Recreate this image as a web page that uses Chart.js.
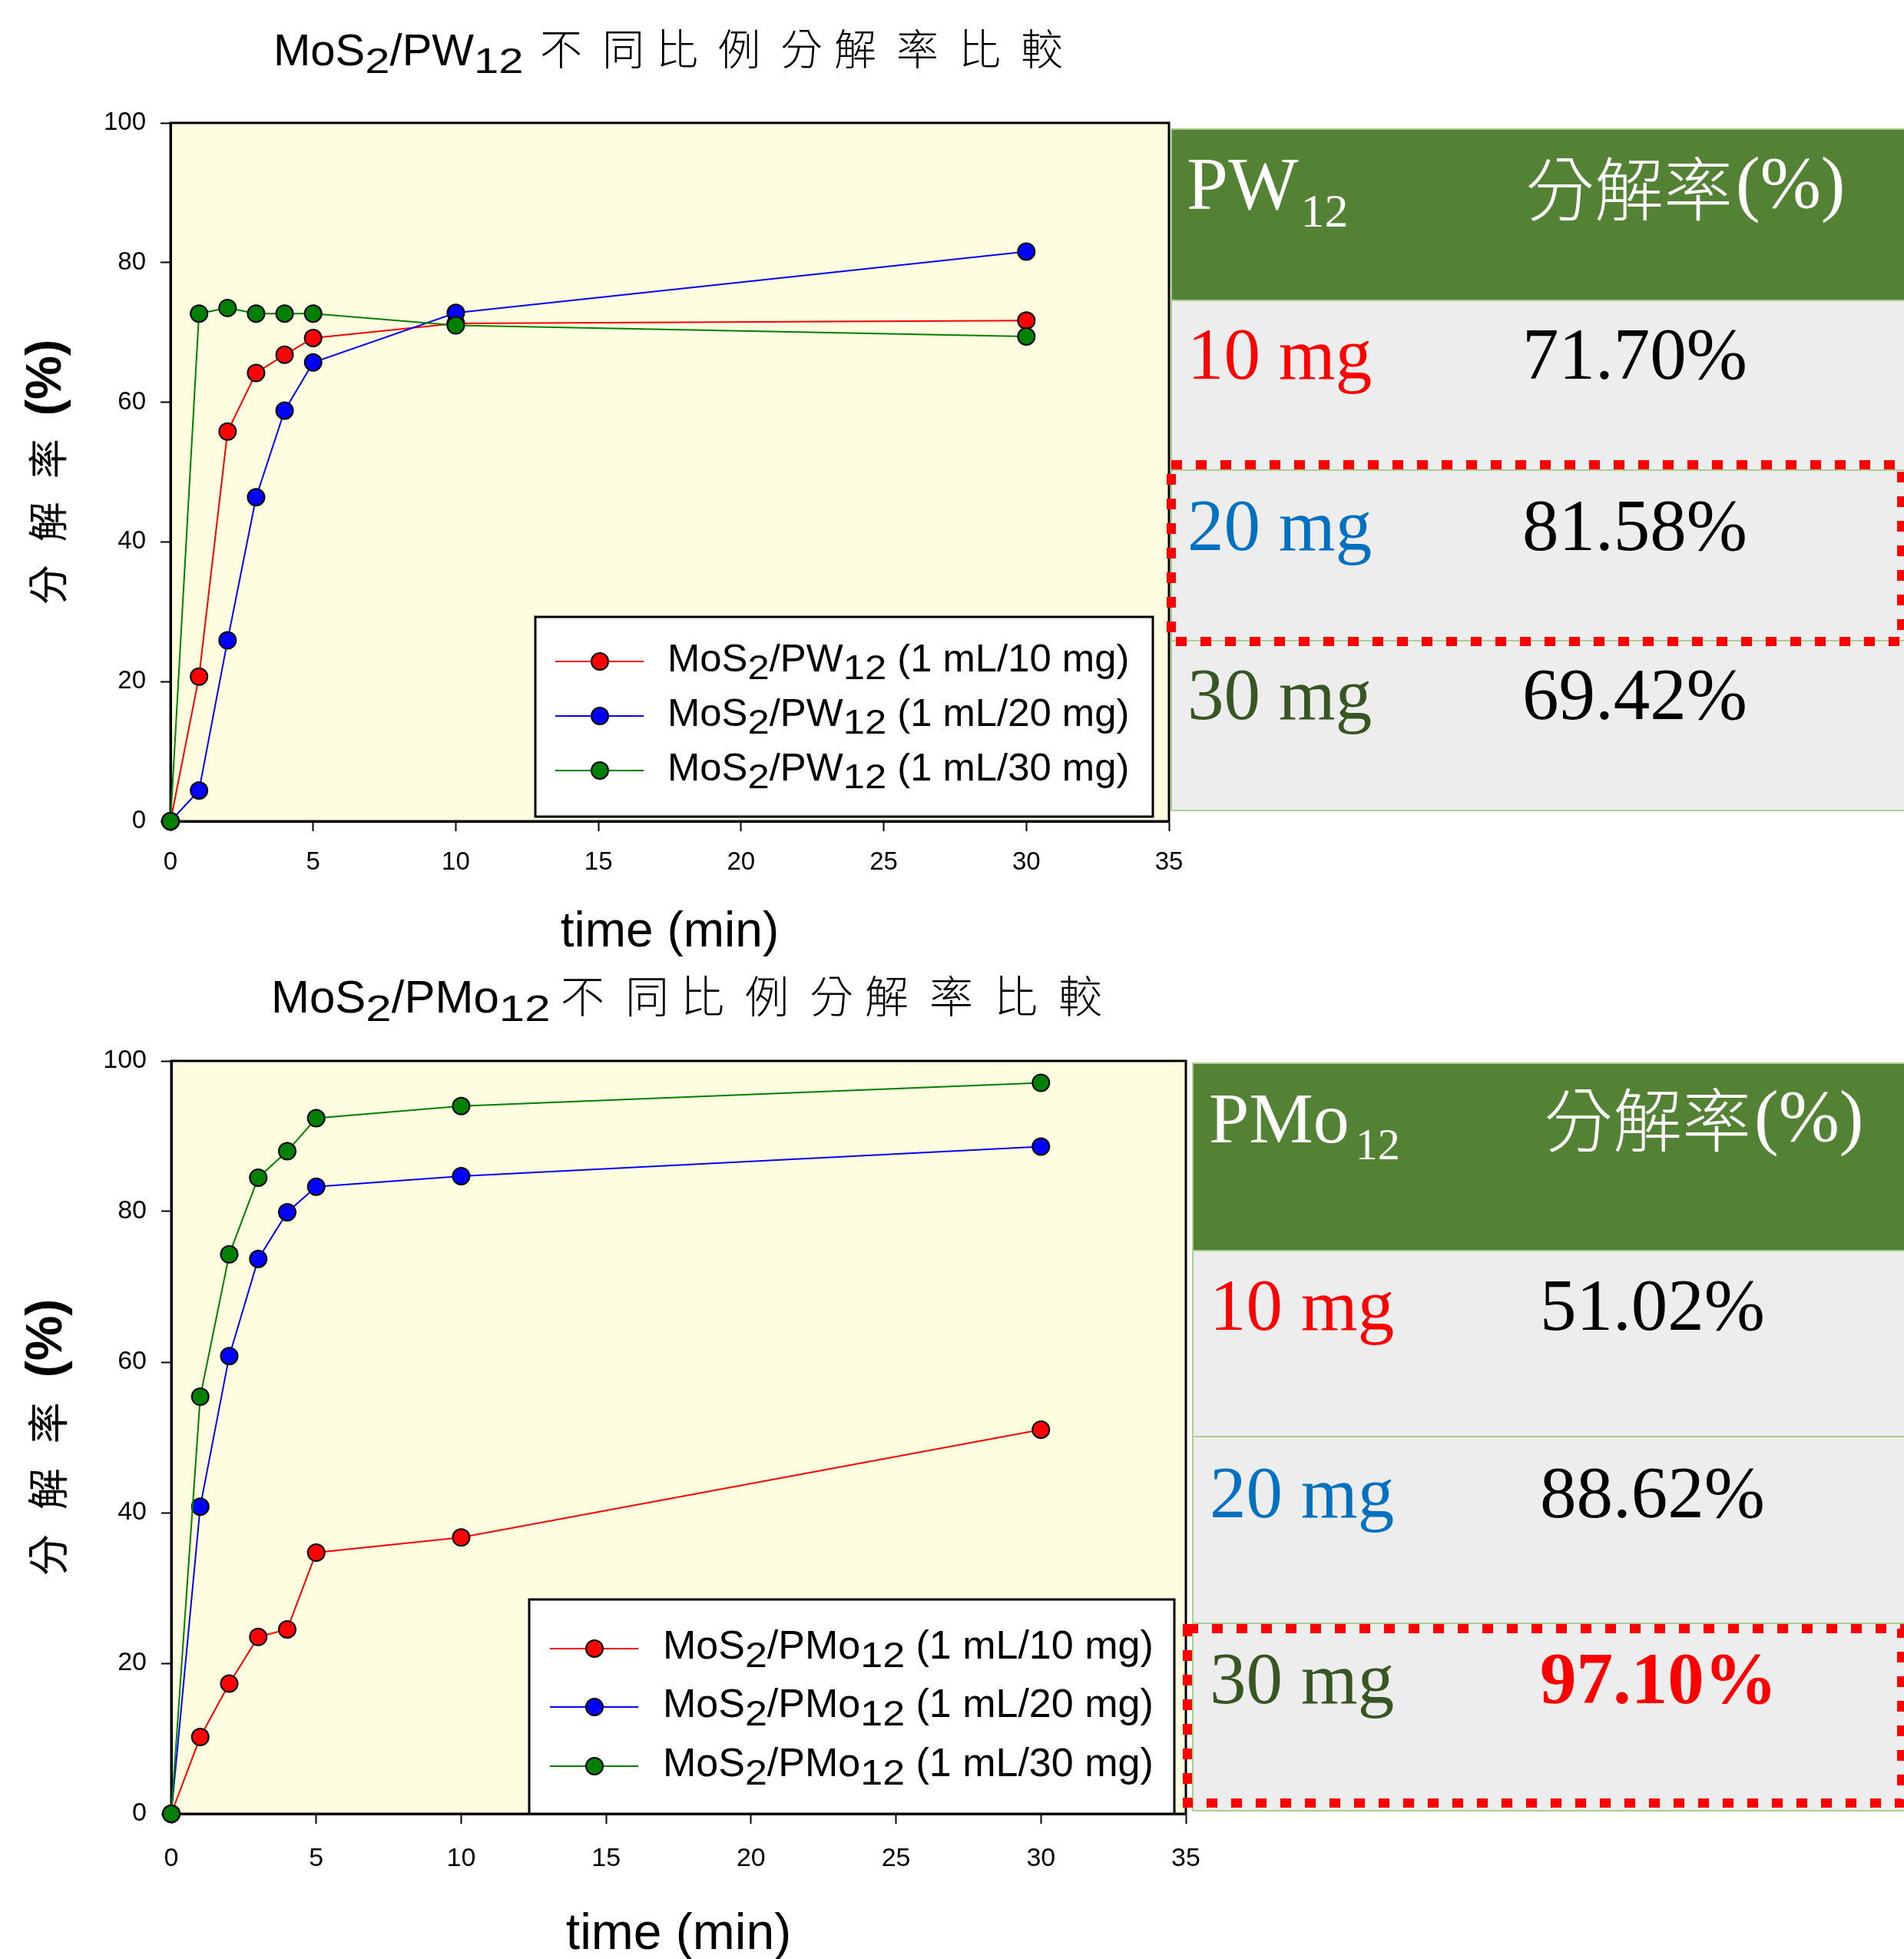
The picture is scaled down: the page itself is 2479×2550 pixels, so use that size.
<!DOCTYPE html>
<html>
<head>
<meta charset="utf-8">
<script src="https://cdn.jsdelivr.net/npm/chart.js@4.4.1/dist/chart.umd.min.js"></script>
<style>
  html, body { margin: 0; padding: 0; background: #ffffff; }
  body { width: 2479px; height: 2550px; position: relative; overflow: hidden; }
  canvas { position: absolute; left: 0; }
  #pwChart { top: 0; }
  #pmoChart { top: 1255px; }
</style>
</head>
<body>
<canvas id="pwChart" width="2479" height="1255"></canvas>
<canvas id="pmoChart" width="2479" height="1295"></canvas>
<script>
// Sampling times (min)
const timeMin = [0, 1, 2, 3, 4, 5, 10, 30];

// MoS2/PW12 decomposition (%) for 10 / 20 / 30 mg
const pw12_10mg = [0, 20.7, 55.8, 64.2, 66.8, 69.2, 71.3, 71.70];
const pw12_20mg = [0, 4.4, 25.9, 46.4, 58.8, 65.7, 72.8, 81.58];
const pw12_30mg = [0, 72.7, 73.5, 72.7, 72.7, 72.7, 71.0, 69.42];

// MoS2/PMo12 decomposition (%) for 10 / 20 / 30 mg
const pmo12_10mg = [0, 10.2, 17.3, 23.5, 24.5, 34.7, 36.7, 51.02];
const pmo12_20mg = [0, 40.8, 60.8, 73.7, 79.9, 83.3, 84.7, 88.62];
const pmo12_30mg = [0, 55.4, 74.3, 84.5, 88.0, 92.4, 94.0, 97.10];

// Dose labels and axis ticks
const doseLabels = ['10 mg', '20 mg', '30 mg'];
const xTickValues = [0, 5, 10, 15, 20, 25, 30, 35];
const yTickValues = [0, 20, 40, 60, 80, 100];

const titleWords = '不 同比 例 分解 率 比 較';
const yTitleChars = ['分', '解', '率'];
const yTitleUnit = '(%)';
const xTitleText = 'time (min)';
const tableHeader = '分解率';

const seriesColors = ['#FF0000', '#0000FF', '#008000'];
const doseTextColors = ['#FF0000', '#0070C0', '#375623'];

const FONT_SANS = '"Liberation Sans", Arial, Helvetica, sans-serif';
const FONT_SERIF = '"Liberation Serif", "Times New Roman", serif';
const FONT_CJK = '"Noto Sans CJK TC", "Noto Sans CJK SC", "Noto Sans CJK JP", sans-serif';

// Draw a run of text pieces; pieces flagged as subscript are shifted down
function drawRich(ctx, x, y, parts, font, sub) {
  for (const [t, isSub] of parts) {
    if (isSub) {
      ctx.font = sub.font || font;
      const w = ctx.measureText(t).width;
      ctx.save();
      ctx.translate(x + (sub.gap || 0), y + sub.dy);
      ctx.scale(1, sub.sy || 1);
      ctx.fillText(t, 0, 0);
      ctx.restore();
      x += w + (sub.gap || 0);
    } else {
      ctx.font = font;
      ctx.fillText(t, x, y);
      x += ctx.measureText(t).width;
    }
  }
  return x;
}

function formulaParts(anion, dose) {
  const parts = [['MoS', 0], ['2', 1], ['/' + anion, 0], ['12', 1]];
  if (dose) parts.push([' (1 mL/' + dose + ')', 0]);
  return parts;
}

function drawPanelTitle(ctx, p) {
  const t = p.title;
  ctx.fillStyle = '#000';
  ctx.textAlign = 'left';
  ctx.textBaseline = 'alphabetic';
  drawRich(ctx, t.x, t.base, formulaParts(p.anion), `${t.size}px ${FONT_SANS}`, { dy: t.subDy, sy: 0.8 });
  ctx.font = `300 ${t.cjkSize}px ${FONT_CJK}`;
  let x = t.cjkX;
  for (const ch of titleWords) {
    if (ch === ' ') { x += t.spaceGap; continue; }
    ctx.fillText(ch, x, t.cjkBase);
    x += ctx.measureText(ch).width + t.charGap;
  }
}

function drawYTitle(ctx, cx, cy, p) {
  const cjkFont = `${p.cjkSize}px ${FONT_CJK}`;
  const unitFont = `bold ${p.unitSize}px ${FONT_SANS}`;
  ctx.save();
  ctx.translate(cx, cy);
  ctx.rotate(-Math.PI / 2);
  ctx.fillStyle = '#000';
  ctx.textAlign = 'left';
  ctx.textBaseline = 'alphabetic';
  ctx.font = cjkFont;
  const cw = ctx.measureText(yTitleChars[0]).width;
  ctx.font = unitFont;
  const uw = ctx.measureText(yTitleUnit).width;
  const total = yTitleChars.length * (cw + p.gap) + uw;
  let x = -total / 2;
  ctx.font = cjkFont;
  for (const ch of yTitleChars) {
    ctx.fillText(ch, x, 0.38 * p.cjkSize);
    x += cw + p.gap;
  }
  ctx.font = unitFont;
  ctx.fillText(yTitleUnit, x, 0.27 * p.unitSize);
  ctx.restore();
}

function drawLegend(ctx, p) {
  const L = p.legend;
  ctx.save();
  ctx.fillStyle = '#ffffff';
  ctx.fillRect(L.x, L.y, L.w, L.h);
  ctx.strokeStyle = '#000';
  ctx.lineWidth = 3;
  ctx.strokeRect(L.x, L.y, L.w, L.h);
  p.series.forEach((vals, i) => {
    const y = L.rows[i];
    ctx.strokeStyle = seriesColors[i];
    ctx.lineWidth = 2;
    ctx.beginPath();
    ctx.moveTo(L.lineX[0], y);
    ctx.lineTo(L.lineX[1], y);
    ctx.stroke();
    ctx.beginPath();
    ctx.arc(L.markerX, y, p.pointR, 0, Math.PI * 2);
    ctx.fillStyle = seriesColors[i];
    ctx.fill();
    ctx.strokeStyle = '#000';
    ctx.lineWidth = 2;
    ctx.stroke();
    ctx.fillStyle = '#000';
    ctx.textAlign = 'left';
    ctx.textBaseline = 'alphabetic';
    drawRich(ctx, L.textX, y + L.textDy, formulaParts(p.anion, doseLabels[i]),
      `${L.size}px ${FONT_SANS}`, { dy: L.subDy, sy: 0.88 });
  });
  ctx.restore();
}

function drawTable(ctx, p) {
  const T = p.table;
  const [yTop, yHdr, yR1, yR2, yBot] = T.ys;
  const w = T.x1 - T.x0;
  ctx.save();
  ctx.fillStyle = '#548235';
  ctx.fillRect(T.x0, yTop, w, yHdr - yTop);
  ctx.fillStyle = '#EDEDED';
  ctx.fillRect(T.x0, yHdr, w, yBot - yHdr);
  ctx.strokeStyle = '#A9D08E';
  ctx.lineWidth = 2;
  ctx.beginPath();
  for (const yy of [yTop, yHdr, yR1, yR2, yBot]) { ctx.moveTo(T.x0, yy); ctx.lineTo(T.x1, yy); }
  ctx.moveTo(T.x0, yTop); ctx.lineTo(T.x0, yBot);
  ctx.stroke();

  // header
  ctx.textAlign = 'left';
  ctx.textBaseline = 'alphabetic';
  ctx.fillStyle = '#ffffff';
  drawRich(ctx, T.hdrX, T.hdrBase, [['P' + (p.anion === 'PW' ? 'W' : 'Mo'), 0], ['12', 1]],
    `${T.hdrSize}px ${FONT_SERIF}`, { font: `${T.subSize}px ${FONT_SERIF}`, dy: T.subDy, gap: T.subGap });
  ctx.font = `300 ${T.cjkSize}px ${FONT_CJK}`;
  ctx.fillText(tableHeader, T.cjkX, T.cjkBase);
  const hx = T.cjkX + ctx.measureText(tableHeader).width + 4;
  ctx.font = `${T.valSize}px ${FONT_SERIF}`;
  ctx.fillText(yTitleUnit, hx, T.unitBase);

  // body rows: dose and final decomposition at 30 min
  p.series.forEach((vals, i) => {
    const base = T.rowBases[i];
    ctx.font = `${T.valSize}px ${FONT_SERIF}`;
    ctx.fillStyle = doseTextColors[i];
    ctx.fillText(doseLabels[i], T.labelX, base);
    const finalVal = vals[vals.length - 1];
    const bold = T.boldRow === i;
    ctx.font = `${bold ? 'bold ' : ''}${T.valSize}px ${FONT_SERIF}`;
    ctx.fillStyle = bold ? '#FF0000' : '#000000';
    ctx.fillText(finalVal.toFixed(2) + '%', T.valueX, base);
  });

  // dashed highlight box
  const D = T.dash;
  ctx.strokeStyle = '#FF0000';
  ctx.lineWidth = 12;
  ctx.setLineDash([14, 18]);
  ctx.lineCap = 'butt';
  ctx.strokeRect(D.x0, D.y0, D.x1 - D.x0, D.y1 - D.y0);
  ctx.restore();
}

function buildPanel(p) {
  const canvas = document.getElementById(p.canvasId);
  const W = canvas.width, H = canvas.height;
  const A = p.area;
  const xAxisH = 80;

  const datasets = p.series.map((vals, i) => ({
    label: doseLabels[i],
    data: timeMin.map((t, k) => ({ x: t, y: vals[k] })),
    borderColor: seriesColors[i],
    backgroundColor: seriesColors[i],
    pointBackgroundColor: seriesColors[i],
    pointBorderColor: '#000000',
    pointBorderWidth: 2,
    pointRadius: p.pointR,
    pointHoverRadius: p.pointR,
    borderWidth: 2,
    tension: 0,
    fill: false,
    clip: false,
    order: p.series.length - 1 - i
  }));

  const decor = {
    id: 'panelDecor',
    beforeDraw(chart) {
      const c = chart.ctx, a = chart.chartArea;
      c.save();
      c.fillStyle = '#FFFDE0';
      c.fillRect(a.left, a.top, a.right - a.left, a.bottom - a.top);
      c.restore();
    },
    beforeDatasetsDraw(chart) {
      const c = chart.ctx, a = chart.chartArea;
      c.save();
      c.strokeStyle = '#000';
      c.lineWidth = 3;
      c.strokeRect(a.left, a.top, a.right - a.left, a.bottom - a.top);
      c.restore();
    },
    afterDatasetsDraw(chart) {
      drawLegend(chart.ctx, p);
    },
    afterDraw(chart) {
      const c = chart.ctx, a = chart.chartArea;
      drawPanelTitle(c, p);
      drawYTitle(c, p.yTitle.cx, (a.top + a.bottom) / 2, p.yTitle);
      c.save();
      c.fillStyle = '#000';
      c.textAlign = 'center';
      c.textBaseline = 'alphabetic';
      c.font = `${p.xTitle.size}px ${FONT_SANS}`;
      c.fillText(xTitleText, (a.left + a.right) / 2, a.bottom + p.xTitle.offset);
      c.restore();
      drawTable(c, p);
    }
  };

  const tickFont = { family: FONT_SANS, size: p.tickSize };
  new Chart(canvas, {
    type: 'line',
    data: { datasets },
    options: {
      responsive: false,
      animation: false,
      devicePixelRatio: 1,
      events: [],
      layout: { padding: { left: 0, top: A.top, right: W - A.right, bottom: H - A.bottom - xAxisH } },
      plugins: { legend: { display: false }, tooltip: { enabled: false }, title: { display: false } },
      scales: {
        x: {
          type: 'linear', min: 0, max: 35,
          afterBuildTicks: s => { s.ticks = xTickValues.map(v => ({ value: v })); },
          afterFit: s => { s.height = xAxisH; },
          grid: { drawOnChartArea: false, drawTicks: true, tickLength: 13, tickWidth: 2, tickColor: '#000' },
          border: { display: true, color: '#000', width: 3 },
          ticks: { font: tickFont, color: '#000', padding: p.xTickPad, maxRotation: 0, autoSkip: false }
        },
        y: {
          type: 'linear', min: 0, max: 100,
          afterBuildTicks: s => { s.ticks = yTickValues.map(v => ({ value: v })); },
          afterFit: s => { s.width = A.left; },
          grid: { drawOnChartArea: false, drawTicks: true, tickLength: 13, tickWidth: 2, tickColor: '#000' },
          border: { display: true, color: '#000', width: 3 },
          ticks: { font: tickFont, color: '#000', padding: 19, autoSkip: false }
        }
      }
    },
    plugins: [decor]
  });
}

buildPanel({
  canvasId: 'pwChart',
  anion: 'PW',
  series: [pw12_10mg, pw12_20mg, pw12_30mg],
  area: { left: 222, top: 160, right: 1522, bottom: 1069 },
  pointR: 11,
  tickSize: 33,
  xTickPad: 21,
  title: { x: 356, base: 85, size: 58, subDy: 10, cjkX: 703, cjkBase: 84, cjkSize: 55, charGap: 15, spaceGap: 11 },
  yTitle: { cx: 62, cjkSize: 52, unitSize: 64, gap: 30 },
  xTitle: { size: 64, offset: 163 },
  legend: { x: 697, y: 803, w: 804, h: 260, rows: [861, 932, 1003], lineX: [723, 838], markerX: 781,
            textX: 869, size: 50.8, textDy: 13, subDy: 10 },
  table: {
    x0: 1525, x1: 2479, ys: [168, 391, 612, 834, 1055],
    hdrX: 1545, hdrBase: 272, hdrSize: 97, subSize: 62, subDy: 23, subGap: 3,
    cjkX: 1986, cjkBase: 280, cjkSize: 90, unitBase: 270,
    labelX: 1546, valueX: 1982, valSize: 95, rowBases: [493, 716, 936], boldRow: -1,
    dash: { x0: 1525, y0: 605, x1: 2476, y1: 835 }
  }
});

buildPanel({
  canvasId: 'pmoChart',
  anion: 'PMo',
  series: [pmo12_10mg, pmo12_20mg, pmo12_30mg],
  area: { left: 223, top: 126, right: 1544, bottom: 1106 },
  pointR: 11,
  tickSize: 34,
  xTickPad: 25,
  title: { x: 353, base: 63, size: 60, subDy: 11, cjkX: 730, cjkBase: 63, cjkSize: 57, charGap: 15, spaceGap: 12 },
  yTitle: { cx: 62, cjkSize: 54, unitSize: 66, gap: 32 },
  xTitle: { size: 66, offset: 176 },
  legend: { x: 689, y: 827, w: 840, h: 279, rows: [891, 967, 1044], lineX: [716, 831], markerX: 774,
            textX: 863, size: 52, textDy: 13, subDy: 11 },
  table: {
    x0: 1553, x1: 2479, ys: [129, 373, 615, 858, 1102],
    hdrX: 1574, hdrBase: 232, hdrSize: 94, subSize: 58, subDy: 22, subGap: 8,
    cjkX: 2010, cjkBase: 237, cjkSize: 90, unitBase: 230,
    labelX: 1575, valueX: 2005, valSize: 95, rowBases: [476, 720, 962], boldRow: 2,
    dash: { x0: 1546, y0: 865, x1: 2476, y1: 1092 }
  }
});
</script>
</body>
</html>
